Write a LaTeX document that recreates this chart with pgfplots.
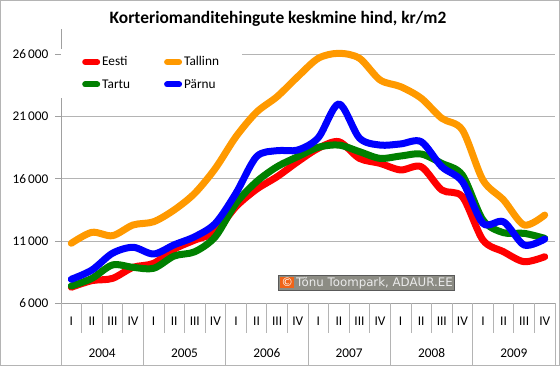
\documentclass[border=0pt]{standalone}
\usepackage{pgfplots}
\pgfplotsset{compat=1.18}
\usepackage{pgfplotstable}
\usepackage{fontspec}
\setmainfont{Carlito}
\newfontfamily\wmfont{DejaVu Sans}
\definecolor{cEesti}{HTML}{FF0000}
\definecolor{cTallinn}{HTML}{FF9900}
\definecolor{cTartu}{HTML}{008000}
\definecolor{cParnu}{HTML}{0000FF}
\definecolor{gridc}{HTML}{B4B4B4}
\definecolor{axc}{HTML}{A0A0A0}
\definecolor{wmbg}{HTML}{8C8C84}
\definecolor{wmor}{HTML}{F06418}
\pgfplotstableread{
x eesti tallinn tartu parnu
0 7290 10820 7390 7930
1 7820 11700 8000 8670
2 8000 11430 9080 10020
3 8890 12290 8890 10500
4 9210 12550 8810 9960
5 10350 13500 9800 10700
6 11080 14840 10140 11350
7 11750 16840 11350 12420
8 13760 19380 14030 14840
9 15160 21350 15770 17780
10 16170 22600 16970 18260
11 17370 24200 17780 18310
12 18450 25680 18530 19300
13 18980 26080 18710 22020
14 17640 25680 18180 19270
15 17240 23940 17640 18710
16 16710 23400 17830 18800
17 16970 22470 17990 18980
18 15100 20860 17240 16970
19 14560 19920 16300 15770
20 11080 15900 12690 12420
21 10140 14300 11670 12550
22 9340 12290 11620 10680
23 9740 13090 11220 11160
}\data
\begin{document}
\begin{tikzpicture}
\path[use as bounding box] (0pt,0pt) rectangle (560pt,-366pt);
\draw[gridc] (0.5pt,-0.5pt) rectangle (559.5pt,-365.5pt);
\node[anchor=base, font=\fontsize{17.4}{21}\selectfont\bfseries] at (278pt,-24pt) {Korteriomanditehingute keskmine hind, kr/m2};
\begin{axis}[
  at={(61pt,-303.3pt)}, anchor=south west,
  scale only axis, width=494pt, height=273.9pt,
  xmin=-0.5, xmax=23.5, ymin=6000, ymax=28000,
  axis lines*=left,
  axis line style={axc, line width=0.8pt},
  clip=false,
  scaled y ticks=false,
  ytick={6000,11000,16000,21000,26000},
  yticklabels={6\,000,11\,000,16\,000,21\,000,26\,000},
  ymajorgrids, major grid style={gridc, line width=0.8pt},
  ytick style={axc, line width=0.8pt},
  major tick length=6pt, tick align=outside,
  yticklabel style={font=\fontsize{13.3}{16}\selectfont, xshift=-3pt},
  xtick={0,...,23},
  xticklabels={I,II,III,IV,I,II,III,IV,I,II,III,IV,I,II,III,IV,I,II,III,IV,I,II,III,IV},
  xtick style={draw=none},
  xticklabel style={font=\fontsize{13.3}{16}\selectfont, anchor=base, yshift=-16pt},
  legend columns=2,
  legend style={at={(0,1)}, anchor=north west, draw=none, fill=white,
    inner xsep=21pt, inner ysep=6pt, yshift=-19pt,
    font=\fontsize{13.3}{16}\selectfont, row sep=8pt,
    /tikz/every even column/.append style={column sep=32pt}},
  legend cell align=left,
  legend image code/.code={\draw[#1, line width=6pt, line cap=round] (3pt,0pt) -- (15pt,0pt);},
  every axis plot/.append style={line width=7pt, smooth, tension=0.5, line join=round, line cap=round},
]
\addplot[cEesti] table[x=x, y=eesti] {\data};
\addplot[cTallinn] table[x=x, y=tallinn] {\data};
\addplot[cTartu] table[x=x, y=tartu] {\data};
\addplot[cParnu] table[x=x, y=parnu] {\data};
\legend{Eesti,Tallinn,Tartu,P\"arnu}
\end{axis}
% category table lines
\foreach \k in {0,...,24}{
  \pgfmathsetmacro{\xx}{61+\k*494/24}
  \pgfmathtruncatemacro{\mm}{mod(\k,4)}
  \ifnum\mm=0
    \draw[gridc, line width=0.8pt] (\xx pt,-303.3pt) -- (\xx pt,-364.5pt);
  \else
    \draw[gridc, line width=0.8pt] (\xx pt,-303.3pt) -- (\xx pt,-333pt);
  \fi
}
\foreach \yr [count=\i from 0] in {2004,2005,2006,2007,2008,2009}{
  \pgfmathsetmacro{\xx}{61+(4*\i+2)*494/24}
  \node[anchor=base, font=\fontsize{13.3}{16}\selectfont] at (\xx pt,-357.5pt) {\yr};
}
\node[fill=wmbg, draw=black!65, line width=0.8pt, inner xsep=1.5pt, inner ysep=1.5pt, text=black!8, font=\wmfont\fontsize{11.8}{13}\selectfont] at (366.5pt,-283pt)
  {\setlength{\fboxsep}{1pt}\colorbox{wmor}{\textcolor{white}{©}}\,Tõnu Toompark, ADAUR.EE};
\end{tikzpicture}
\end{document}
